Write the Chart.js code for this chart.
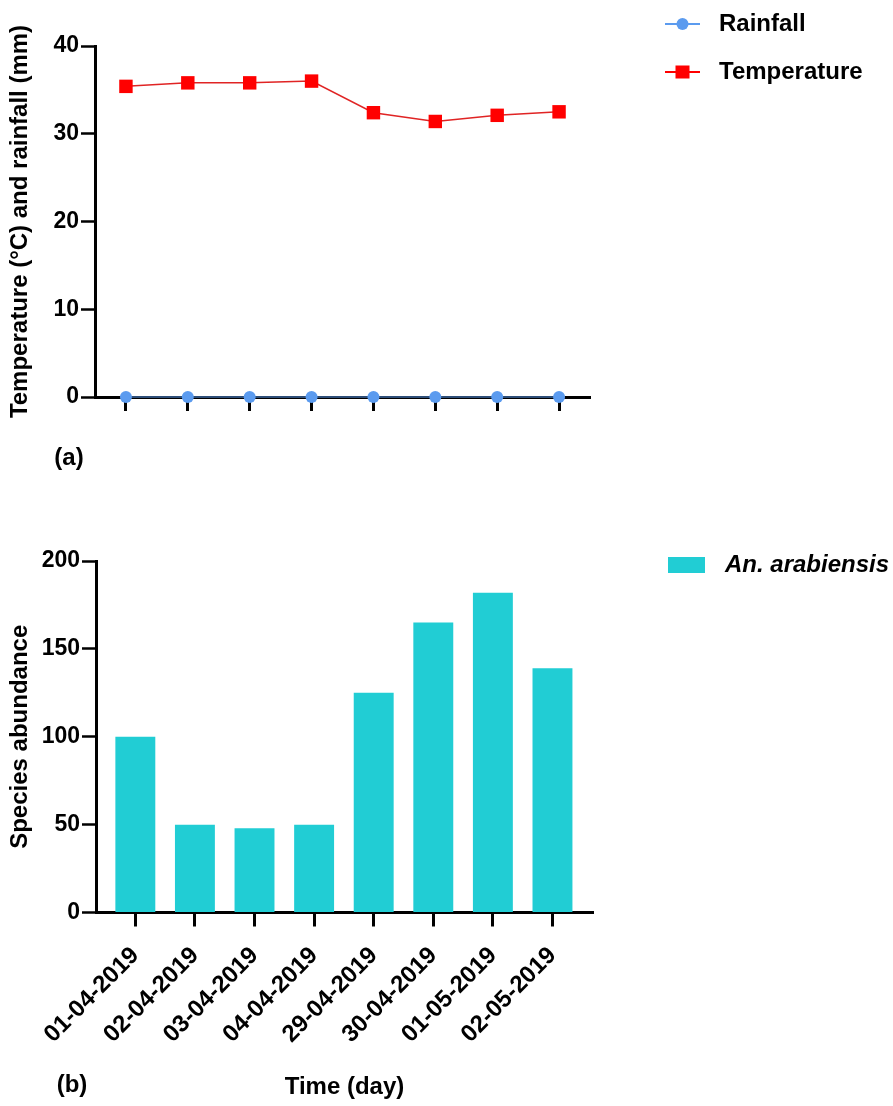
<!DOCTYPE html>
<html><head><meta charset="utf-8">
<script src="https://cdn.jsdelivr.net/npm/chart.js@4"></script>
<style>
html,body{margin:0;padding:0;background:#fff;width:893px;height:1106px;overflow:hidden;}
#c1{position:absolute;left:0;top:0;}
#c2{position:absolute;left:0;top:490px;}
</style></head><body>
<canvas id="c1" width="893" height="490"></canvas>
<canvas id="c2" width="893" height="616"></canvas>
<script>
// ---- data ----
const days = ['01-04-2019','02-04-2019','03-04-2019','04-04-2019','29-04-2019','30-04-2019','01-05-2019','02-05-2019'];
const rainfall = [0, 0, 0, 0, 0, 0, 0, 0];
const temperature = [35.4, 35.8, 35.8, 36.0, 32.4, 31.4, 32.1, 32.5];
const abundance = [100, 50, 48, 50, 125, 165, 182, 139];
const tempTicks = [0, 10, 20, 30, 40];
const abundanceTicks = [0, 50, 100, 150, 200];

// ---- style ----
const FONT = "'Liberation Sans', Arial, sans-serif";
const tickFont = {family: FONT, size: 23, weight: 'bold'};
const titleFont = {family: FONT, size: 24, weight: 'bold', lineHeight: 1};

function yAxis(ticksArr, title, width) {
  return {
    min: ticksArr[0], max: ticksArr[ticksArr.length - 1],
    afterBuildTicks: s => { s.ticks = ticksArr.map(v => ({value: v})); },
    afterFit: s => { s.width = width; },
    ticks: {font: tickFont, color: '#000', padding: 2},
    grid: {drawOnChartArea: false, drawTicks: true, tickLength: 14, tickWidth: 2.5, tickColor: '#000'},
    border: {display: true, width: 3, color: '#000'},
    title: {display: true, text: title, font: titleFont, color: '#000', padding: {top: 8, bottom: 0}}
  };
}

function textPlugin(id, text, x, y) {
  return {
    id: id,
    afterDraw(chart) {
      const ctx = chart.ctx;
      ctx.save();
      ctx.font = 'bold 24px ' + FONT;
      ctx.fillStyle = '#000';
      ctx.textAlign = 'center';
      ctx.textBaseline = 'middle';
      ctx.fillText(text, x, y);
      ctx.restore();
    }
  };
}

const topLegend = {
  id: 'topLegend',
  afterDraw(chart) {
    const ctx = chart.ctx;
    const rows = [24, 72];
    chart.data.datasets.forEach((ds, i) => {
      const y = rows[i];
      const col = ds.pointBackgroundColor;
      ctx.save();
      ctx.strokeStyle = col;
      ctx.lineWidth = 2;
      ctx.beginPath(); ctx.moveTo(665, y); ctx.lineTo(700, y); ctx.stroke();
      ctx.fillStyle = col;
      if (ds.pointStyle === 'rect') {
        ctx.fillRect(675.5, y - 6.5, 14, 13);
      } else {
        ctx.beginPath(); ctx.arc(682.5, y, 6, 0, Math.PI * 2); ctx.fill();
      }
      ctx.font = 'bold 24px ' + FONT;
      ctx.fillStyle = '#000';
      ctx.textAlign = 'left';
      ctx.textBaseline = 'middle';
      ctx.fillText(ds.label, 719, y);
      ctx.restore();
    });
  }
};

const bottomLegend = {
  id: 'bottomLegend',
  afterDraw(chart) {
    const ctx = chart.ctx;
    const ds = chart.data.datasets[0];
    ctx.save();
    ctx.fillStyle = ds.backgroundColor;
    ctx.fillRect(668, 67, 37, 16);
    ctx.font = 'italic bold 24px ' + FONT;
    ctx.fillStyle = '#000';
    ctx.textAlign = 'left';
    ctx.textBaseline = 'middle';
    ctx.fillText(ds.label, 725, 75);
    ctx.restore();
  }
};

// ---- chart (a) ----
new Chart(document.getElementById('c1'), {
  type: 'line',
  data: {
    labels: days,
    datasets: [
      {label: 'Rainfall', data: rainfall, borderColor: 'rgba(91,155,239,0.5)', borderWidth: 2,
       pointStyle: 'circle', pointRadius: 6, pointBackgroundColor: '#5B9BEF', pointBorderWidth: 0, clip: false},
      {label: 'Temperature', data: temperature, borderColor: '#E02424', borderWidth: 1.5,
       pointStyle: 'rect', pointRadius: 9.5, pointBackgroundColor: '#FF0000', pointBorderWidth: 0, clip: false}
    ]
  },
  options: {
    responsive: false, animation: false, events: [],
    layout: {padding: {left: 0, top: 46, right: 303, bottom: 73}},
    plugins: {legend: {display: false}, tooltip: {enabled: false}},
    scales: {
      x: {
        offset: true,
        afterFit: s => { s.height = 20; },
        ticks: {display: false},
        grid: {drawOnChartArea: false, drawTicks: true, tickLength: 14, tickWidth: 3, tickColor: '#000', offset: false},
        border: {display: true, width: 3, color: '#000'}
      },
      y: yAxis(tempTicks, 'Temperature (°C) and rainfall (mm)', 95)
    }
  },
  plugins: [topLegend, textPlugin('labelA', '(a)', 69, 458)]
});

// ---- chart (b) ----
new Chart(document.getElementById('c2'), {
  type: 'bar',
  data: {
    datasets: [{
      label: 'An. arabiensis',
      data: abundance.map((v, i) => ({x: i, y: v})),
      backgroundColor: '#21CDD4',
      categoryPercentage: 1, barPercentage: 0.67
    }]
  },
  options: {
    responsive: false, animation: false, events: [],
    layout: {padding: {left: 0, top: 71, right: 300, bottom: 7}},
    plugins: {legend: {display: false}, tooltip: {enabled: false}},
    scales: {
      x: {
        type: 'linear', min: -0.66, max: 7.68, bounds: 'data', offset: false,
        afterBuildTicks: s => { s.ticks = days.map((d, i) => ({value: i})); },
        afterFit: s => { s.height = 186.5; },
        ticks: {callback: v => days[v], font: {family: FONT, size: 24, weight: 'bold'}, color: '#000',
                minRotation: 45, maxRotation: 45, autoSkip: false, padding: 15},
        grid: {drawOnChartArea: false, drawTicks: true, tickLength: 14, tickWidth: 3, tickColor: '#000', offset: false},
        border: {display: true, width: 3, color: '#000'},
        title: {display: true, text: 'Time (day)', font: titleFont, color: '#000', padding: {top: 0, bottom: 0}}
      },
      y: yAxis(abundanceTicks, 'Species abundance', 96)
    }
  },
  plugins: [bottomLegend, textPlugin('labelB', '(b)', 72, 595)]
});
</script>
</body></html>
